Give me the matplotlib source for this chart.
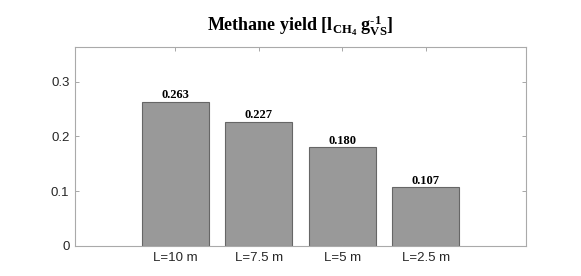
import matplotlib
matplotlib.use("Agg")
import matplotlib.pyplot as plt

categories = ["L=10 m", "L=7.5 m", "L=5 m", "L=2.5 m"]
values = [0.263, 0.227, 0.180, 0.107]
value_labels = ["0.263", "0.227", "0.180", "0.107"]
yticks = [0, 0.1, 0.2, 0.3]
ytick_labels = ["0", "0.1", "0.2", "0.3"]

plt.rcParams['mathtext.fontset'] = 'custom'
plt.rcParams['mathtext.rm'] = 'Liberation Serif:bold'
plt.rcParams['mathtext.bf'] = 'Liberation Serif:bold'
plt.rcParams['mathtext.it'] = 'Liberation Serif:bold'

fig = plt.figure(figsize=(5.81, 2.76), dpi=100)
ax = fig.add_axes([75/581, 1-246/276, (526-75)/581, (246-47)/276])

x = list(range(1, len(categories) + 1))
ax.bar(x, values, width=0.8, color="#999999", edgecolor="#666666", linewidth=0.8)
for xi, v, lab in zip(x, values, value_labels):
    ax.text(xi, v + 0.001, lab, ha="center", va="bottom",
            family="Liberation Serif", fontweight="bold", fontsize=9)

ax.set_xlim(-0.2, 5.2)
ax.set_ylim(0, 0.363)
ax.set_xticks(x)
ax.set_xticklabels(categories, family="Liberation Sans", fontsize=9.5)
ax.set_yticks(yticks)
ax.set_yticklabels(ytick_labels, family="Liberation Sans", fontsize=9.5)
ax.tick_params(direction="in", length=3, width=0.6, color="#999999",
               top=True, right=True, pad=4, labelcolor="#262626")
for s in ax.spines.values():
    s.set_color("#aaaaaa")
    s.set_linewidth(0.8)

ax.set_title(r"Methane yield [l$_{\mathrm{CH_4}}$ g$^{\text{-1}}_{\mathrm{VS}}$]",
             family="Liberation Serif", fontweight="bold", fontsize=13, pad=11)

fig.savefig("out.png", dpi=100)
